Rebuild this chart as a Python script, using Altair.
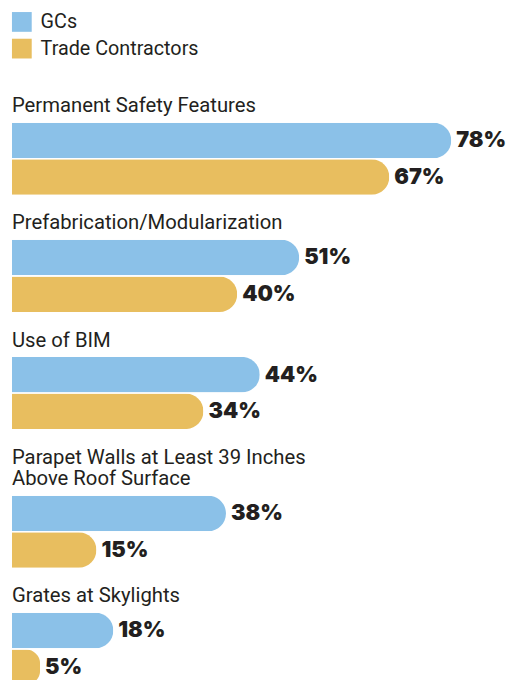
import altair as alt
import pandas as pd

categories = [
    "Permanent Safety Features",
    "Prefabrication/Modularization",
    "Use of BIM",
    "Parapet Walls at Least 39 Inches Above Roof Surface",
    "Grates at Skylights",
]
title_lines = [
    ["Permanent Safety Features"],
    ["Prefabrication/Modularization"],
    ["Use of BIM"],
    ["Parapet Walls at Least 39 Inches", "Above Roof Surface"],
    ["Grates at Skylights"],
]
series = ["GCs", "Trade Contractors"]
gcs = [78, 51, 44, 38, 18]
trade = [67, 40, 34, 15, 5]
colors = ["#8BC1E8", "#E8BE5F"]

LABEL_FONT = "Roboto"
VALUE_FONT = "Inter"
INK = "#231f20"

rows = []
for c, g, t in zip(categories, gcs, trade):
    rows.append({"category": c, "series": series[0], "value": g})
    rows.append({"category": c, "series": series[1], "value": t})
df = pd.DataFrame(rows)


def panel(i):
    d = df[df["category"] == categories[i]]
    base = alt.Chart(d).transform_calculate(label="datum.value + '%'").encode(
        y=alt.Y("series:N", sort=series, axis=None,
                scale=alt.Scale(paddingInner=0.03, paddingOuter=0)),
        x=alt.X("value:Q", scale=alt.Scale(domain=[0, 80]), axis=None),
    )
    bars = base.mark_bar(cornerRadiusEnd=18).encode(
        color=alt.Color("series:N", sort=series,
                        scale=alt.Scale(domain=series, range=colors),
                        legend=alt.Legend(title=None, orient="top", direction="vertical")),
    )
    text = base.mark_text(align="left", baseline="middle", dx=5, font=VALUE_FONT,
                          fontWeight=900, fontSize=22, color=INK).encode(text="label:N")
    return (bars + text).properties(
        width=456, height=73,
        title=alt.TitleParams(text=title_lines[i], anchor="start", font=LABEL_FONT,
                              fontSize=20.5, fontWeight="normal", color=INK, offset=6,
                              lineHeight=22),
    )


chart = alt.vconcat(*[panel(i) for i in range(len(categories))], spacing=18.5).properties(
    padding={"left": 4, "top": 0, "right": 0, "bottom": 0}
).configure_view(stroke=None).configure_legend(
    symbolType="square", symbolSize=400, symbolStrokeWidth=0, labelFont=LABEL_FONT,
    labelFontSize=20, labelColor=INK, rowPadding=7, labelOffset=9, offset=38.5,
    symbolOpacity=1,
)

chart.save("out.html", embed_options={"renderer": "svg", "actions": False})
